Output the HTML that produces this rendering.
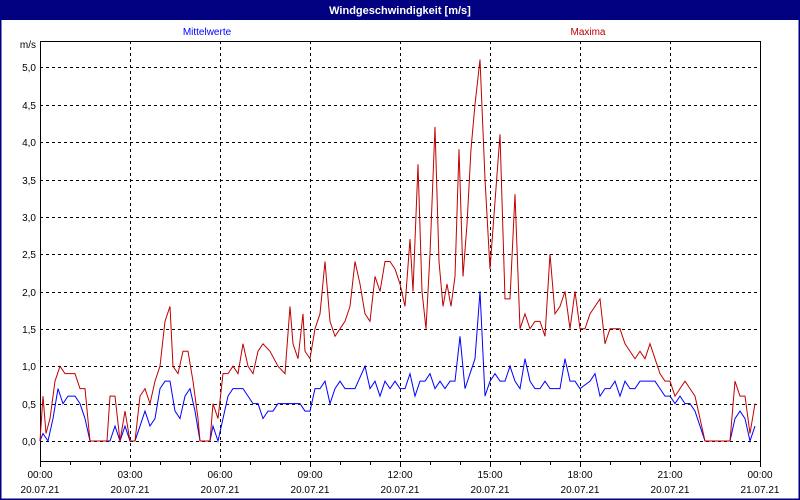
<!DOCTYPE html>
<html><head><meta charset="utf-8"><style>
body{margin:0;width:800px;height:500px;overflow:hidden;background:#fff}
svg{display:block;font-family:"Liberation Sans",sans-serif}
</style></head><body>
<svg width="800" height="500" viewBox="0 0 800 500">
<rect x="0" y="0" width="800" height="500" fill="#fff"/>
<rect x="0.5" y="0.5" width="799" height="499" fill="none" stroke="#000080" stroke-width="2"/>
<rect x="0" y="0" width="800" height="20" fill="#000080"/>
<text x="400" y="14" fill="#fff" font-size="11" font-weight="bold" text-anchor="middle">Windgeschwindigkeit [m/s]</text>
<text x="207" y="35" fill="#0000ff" font-size="10" text-anchor="middle">Mittelwerte</text>
<text x="588" y="35" fill="#c00000" font-size="10" text-anchor="middle">Maxima</text>
<g stroke="#000" stroke-width="1" stroke-dasharray="3,3" fill="none">
<path d="M40,441.5H760M40,404.5H760M40,366.5H760M40,329.5H760M40,292.5H760M40,254.5H760M40,217.5H760M40,180.5H760M40,142.5H760M40,105.5H760M40,67.5H760"/>
<path d="M130.5,41V461M220.5,41V461M310.5,41V461M400.5,41V461M490.5,41V461M580.5,41V461M670.5,41V461"/>
</g>
<path d="M40.5,41V461.5H760.5V41M40,41.5H760" stroke="#000" fill="none"/>
<path d="M40.5,461V467M70.5,461V465M100.5,461V465M130.5,461V467M160.5,461V465M190.5,461V465M220.5,461V467M250.5,461V465M280.5,461V465M310.5,461V467M340.5,461V465M370.5,461V465M400.5,461V467M430.5,461V465M460.5,461V465M490.5,461V467M520.5,461V465M550.5,461V465M580.5,461V467M610.5,461V465M640.5,461V465M670.5,461V467M700.5,461V465M730.5,461V465M760.5,461V467" stroke="#000"/>
<g font-size="10" text-anchor="end" fill="#000">
<text x="36" y="48">m/s</text>
<text x="36" y="445">0,0</text><text x="36" y="408">0,5</text><text x="36" y="370">1,0</text><text x="36" y="333">1,5</text><text x="36" y="296">2,0</text><text x="36" y="258">2,5</text><text x="36" y="221">3,0</text><text x="36" y="184">3,5</text><text x="36" y="146">4,0</text><text x="36" y="109">4,5</text><text x="36" y="71">5,0</text>
</g>
<g font-size="10" text-anchor="middle" fill="#000">
<text x="40" y="478">00:00</text><text x="130" y="478">03:00</text><text x="220" y="478">06:00</text><text x="310" y="478">09:00</text><text x="400" y="478">12:00</text><text x="490" y="478">15:00</text><text x="580" y="478">18:00</text><text x="670" y="478">21:00</text><text x="760" y="478">00:00</text>
<text x="40" y="493">20.07.21</text><text x="130" y="493">20.07.21</text><text x="220" y="493">20.07.21</text><text x="310" y="493">20.07.21</text><text x="400" y="493">20.07.21</text><text x="490" y="493">20.07.21</text><text x="580" y="493">20.07.21</text><text x="670" y="493">20.07.21</text><text x="760" y="493">21.07.21</text>
</g>
<g transform="translate(0,441) scale(1,-74.8)" fill="none">
<polyline vector-effect="non-scaling-stroke" stroke="#0000ff" stroke-width="1" points="40,0 43,0.1 48,0 53,0.3 58,0.7 63,0.5 68,0.6 75,0.6 80,0.5 85,0.3 90,0 110,0 115,0.2 120,0 125,0.2 130,0 135,0 140,0.2 145,0.4 150,0.2 155,0.3 160,0.7 165,0.8 170,0.8 175,0.4 180,0.3 185,0.6 190,0.7 195,0.4 200,0 210,0 213,0.2 218,0 223,0.3 228,0.6 233,0.7 243,0.7 248,0.6 253,0.5 258,0.5 263,0.3 268,0.4 273,0.4 278,0.5 290,0.5 300,0.5 305,0.4 310,0.4 315,0.7 320,0.7 325,0.8 330,0.5 335,0.7 340,0.8 345,0.7 355,0.7 365,1.0 370,0.7 375,0.8 380,0.6 385,0.8 390,0.7 395,0.8 400,0.7 405,0.7 410,0.9 415,0.6 420,0.8 425,0.8 430,0.9 435,0.7 440,0.8 445,0.7 450,0.8 455,0.8 460,1.4 465,0.7 470,0.9 475,1.1 480,2.0 485,0.6 490,0.8 495,0.9 500,0.8 505,0.8 510,1.0 515,0.8 520,0.7 525,1.1 530,0.8 535,0.7 540,0.7 545,0.8 550,0.7 555,0.7 560,0.7 565,1.1 570,0.8 575,0.8 580,0.7 590,0.8 595,0.9 600,0.6 605,0.7 610,0.7 615,0.8 620,0.6 625,0.8 630,0.7 635,0.7 640,0.8 650,0.8 655,0.8 660,0.7 665,0.6 670,0.6 675,0.5 680,0.6 685,0.5 690,0.5 695,0.4 700,0.2 705,0 730,0 735,0.3 740,0.4 745,0.3 750,0 755,0.2"/>
<polyline vector-effect="non-scaling-stroke" stroke="#c00000" stroke-width="1" points="40,0 43,0.6 46,0.1 50,0.3 55,0.8 60,1.0 65,0.9 75,0.9 80,0.7 85,0.7 90,0 107,0 110,0.6 115,0.6 120,0 125,0.4 130,0 135,0 140,0.6 145,0.7 150,0.5 155,0.8 160,1.0 165,1.6 170,1.8 173,1.0 178,0.9 183,1.2 188,1.2 193,0.8 198,0.3 200,0 210,0 213,0.5 218,0.3 223,0.9 228,0.9 233,1.0 238,0.9 243,1.3 248,1.0 253,0.9 258,1.2 263,1.3 270,1.2 278,1.0 285,0.9 290,1.8 293,1.3 298,1.1 303,1.7 305,1.2 310,1.1 315,1.5 320,1.7 325,2.4 330,1.6 335,1.4 340,1.5 345,1.6 350,1.8 355,2.4 360,2.1 365,1.7 370,1.6 375,2.2 380,2.0 385,2.4 390,2.4 395,2.3 400,2.1 405,1.8 410,2.7 413,2.0 418,3.7 422,2.0 426,1.5 430,2.5 435,4.2 439,2.4 443,1.8 447,2.1 451,1.8 455,2.2 459,3.9 463,2.2 467,2.9 471,3.9 475,4.5 480,5.1 485,3.5 490,2.3 495,3.2 500,4.1 505,1.9 510,1.9 515,3.3 520,1.5 525,1.7 530,1.5 535,1.6 540,1.6 545,1.4 550,2.5 555,1.7 560,1.8 565,2.0 570,1.5 575,2.0 580,1.5 585,1.5 590,1.7 600,1.9 605,1.3 610,1.5 620,1.5 625,1.3 630,1.2 635,1.1 640,1.2 645,1.1 650,1.3 655,1.1 660,0.9 665,0.8 670,0.8 675,0.6 680,0.7 685,0.8 690,0.7 695,0.6 700,0.3 705,0 730,0 735,0.8 740,0.6 745,0.6 750,0.1 755,0.5"/>
</g>
</svg>
</body></html>
